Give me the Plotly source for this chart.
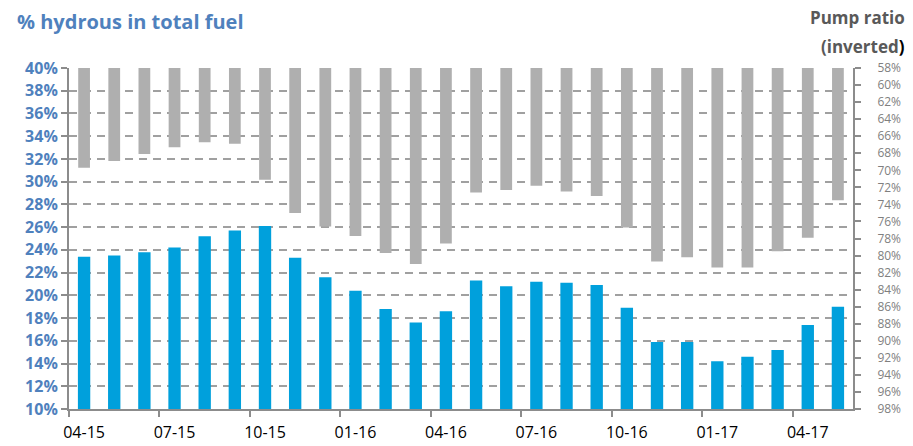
import plotly.graph_objects as go

months = ["04-15", "05-15", "06-15", "07-15", "08-15", "09-15", "10-15", "11-15", "12-15",
          "01-16", "02-16", "03-16", "04-16", "05-16", "06-16", "07-16", "08-16", "09-16",
          "10-16", "11-16", "12-16", "01-17", "02-17", "03-17", "04-17", "05-17"]
hydrous = [23.4, 23.5, 23.8, 24.2, 25.2, 25.7, 26.1, 23.3, 21.6, 20.4, 18.8, 17.6, 18.6,
           21.3, 20.8, 21.2, 21.1, 20.9, 18.9, 15.9, 15.9, 14.2, 14.6, 15.2, 17.4, 19.0]
pump_ratio = [69.7, 68.9, 68.1, 67.3, 66.7, 66.9, 71.1, 75.0, 76.6, 77.7, 79.7, 81.0, 78.6,
              72.6, 72.3, 71.8, 72.5, 73.0, 76.7, 80.7, 80.2, 81.4, 81.4, 79.5, 77.9, 73.5]
pump_top = 58
left_ticks = list(range(10, 41, 2))
right_ticks = list(range(58, 99, 2))

x = list(range(len(months)))
BLUE = "#00A0DC"
GRAY = "#AFAFAF"
LBLUE = "#4F81BD"
AXGRAY = "#8C8C8C"

fig = go.Figure()
fig.add_trace(go.Bar(x=x, y=hydrous, marker=dict(color=BLUE, line=dict(width=0)),
                     width=0.41, yaxis="y", name="Hydrous"))
fig.add_trace(go.Bar(x=x, y=[p - pump_top for p in pump_ratio], base=pump_top,
                     marker=dict(color=GRAY, line=dict(width=0)),
                     width=0.39, yaxis="y2", name="Pump ratio"))

fig.update_layout(
    width=913, height=446,
    margin=dict(l=69, r=60, t=68, b=37, autoexpand=False),
    paper_bgcolor="white", plot_bgcolor="white",
    showlegend=False, barmode="overlay",
    font=dict(family="Open Sans", color="black"),
    xaxis=dict(
        range=[-0.5, len(months) - 0.5],
        tickvals=x[::3], ticktext=months[::3],
        ticks="", showgrid=False, zeroline=False, automargin=False,
        showline=True, linecolor=AXGRAY, linewidth=2,
        tickfont=dict(size=16, color="black"),
        ticklabelstandoff=8,
        minor=dict(tick0=-0.5, dtick=3, ticks="outside", ticklen=6,
                   tickcolor=AXGRAY, tickwidth=2, showgrid=False),
    ),
    yaxis=dict(
        range=[10, 40], tickvals=left_ticks,
        ticktext=[f"{v}%" for v in left_ticks],
        showgrid=True, gridcolor="#A0A0A0", gridwidth=2, griddash="8px,6px",
        zeroline=False, showline=True, linecolor=AXGRAY, linewidth=2, automargin=False,
        ticks="outside", ticklen=6, tickcolor=AXGRAY, tickwidth=2,
        tickfont=dict(size=16, color=LBLUE, family="Open Sans", weight="bold"),
    ),
    yaxis2=dict(
        range=[98, 58], tickvals=right_ticks,
        ticktext=[f"{v}%" for v in right_ticks],
        overlaying="y", side="right", showgrid=False, zeroline=False, automargin=False,
        showline=True, linecolor=AXGRAY, linewidth=2,
        ticks="outside", ticklen=6, tickcolor=AXGRAY, tickwidth=2,
        ticklabelstandoff=14,
        tickfont=dict(size=12, color="#7F7F7F", family="Open Sans"),
    ),
)

fig.add_annotation(text="% hydrous in total fuel", xref="paper", yref="paper",
                   x=(15 - 69) / 784, y=(409 - 22) / 341, xanchor="left", yanchor="middle",
                   showarrow=False,
                   font=dict(size=20, color=LBLUE, family="Open Sans", weight="bold"))
fig.add_annotation(text="Pump ratio", xref="paper", yref="paper",
                   x=(907 - 69) / 784, y=(409 - 18) / 341, xanchor="right", yanchor="middle",
                   showarrow=False,
                   font=dict(size=17, color="#595959", family="Open Sans", weight="bold"))
fig.add_annotation(text="(inverted<span style='color:black'>)</span>", xref="paper", yref="paper",
                   x=(907 - 69) / 784, y=(409 - 46) / 341, xanchor="right", yanchor="middle",
                   showarrow=False,
                   font=dict(size=17, color="#595959", family="Open Sans", weight="bold"))

fig.write_html("out.html")
